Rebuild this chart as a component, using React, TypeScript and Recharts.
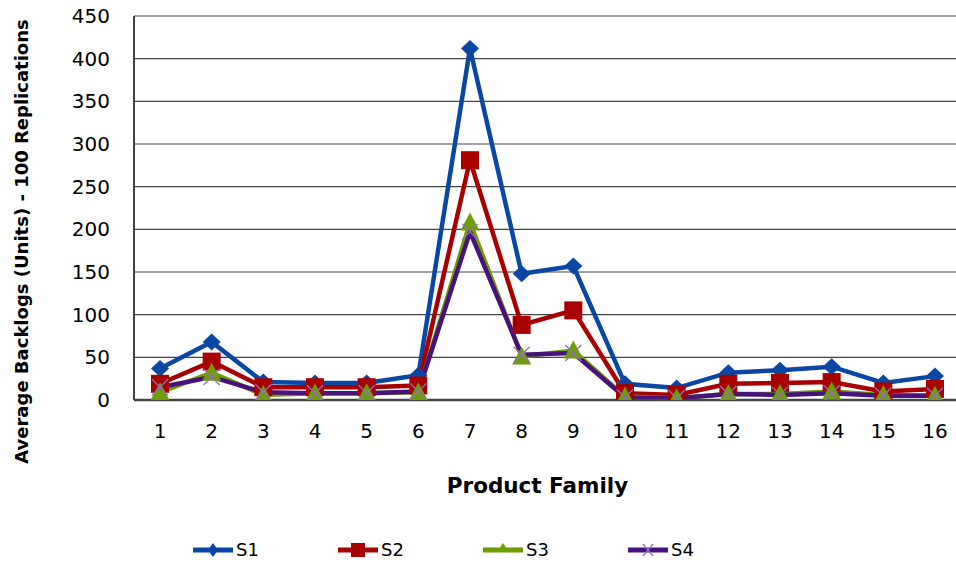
import React from 'react';
import {
  LineChart,
  Line,
  XAxis,
  YAxis,
  CartesianGrid,
  Legend,
  Label,
} from 'recharts';

// Product families on the category axis
const families = ['1', '2', '3', '4', '5', '6', '7', '8', '9', '10', '11', '12', '13', '14', '15', '16'];

// Average backlog (units) over 100 replications, per scenario
const s1 = [37, 68, 21, 20, 20, 29, 412, 148, 157, 19, 14, 32, 35, 39, 20, 28];
const s2 = [19, 45, 15, 15, 15, 17, 281, 88, 105, 8, 6, 19, 20, 21, 10, 13];
const s3 = [9, 32, 6, 8, 8, 9, 208, 51, 58, 4, 2, 7, 7, 10, 6, 5];
const s4 = [15, 27, 9, 8, 8, 10, 197, 53, 55, 3, 2, 7, 6, 8, 5, 5];

const yTicks = [0, 50, 100, 150, 200, 250, 300, 350, 400, 450];

const data = families.map((family, i) => ({
  family,
  S1: s1[i],
  S2: s2[i],
  S3: s3[i],
  S4: s4[i],
}));

const COLORS = {
  S1: '#0A47A5',
  S2: '#A80000',
  S3: '#6E9E00',
  S4: '#48127E',
};

const FONT = '"DejaVu Sans", Verdana, sans-serif';
const GRID = '#444444';

type MarkerKind = 'diamond' | 'square' | 'triangle' | 'cross';

function Marker({ kind, cx, cy, color }: { kind: MarkerKind; cx: number; cy: number; color: string }) {
  switch (kind) {
    case 'diamond':
      return <path d={`M${cx},${cy - 8.5} L${cx + 9},${cy} L${cx},${cy + 8.5} L${cx - 9},${cy} Z`} fill={color} />;
    case 'square':
      return <rect x={cx - 9} y={cy - 9} width={18} height={18} fill={color} />;
    case 'triangle':
      return <path d={`M${cx},${cy - 10} L${cx + 9.5},${cy + 8} L${cx - 9.5},${cy + 8} Z`} fill={color} />;
    case 'cross':
    default:
      return (
        <g stroke="#8F6FC0" strokeWidth={1.3}>
          <line x1={cx - 8} y1={cy - 8} x2={cx + 8} y2={cy + 8} />
          <line x1={cx - 8} y1={cy + 8} x2={cx + 8} y2={cy - 8} />
        </g>
      );
  }
}

const makeDot = (kind: MarkerKind, color: string) => (props: any) => {
  const { cx, cy, index } = props;
  if (cx == null || cy == null) return <g key={`d-${kind}-${index}`} />;
  return (
    <g key={`d-${kind}-${index}`}>
      <Marker kind={kind} cx={cx} cy={cy} color={color} />
    </g>
  );
};

const SERIES: { key: 'S1' | 'S2' | 'S3' | 'S4'; kind: MarkerKind }[] = [
  { key: 'S1', kind: 'diamond' },
  { key: 'S2', kind: 'square' },
  { key: 'S3', kind: 'triangle' },
  { key: 'S4', kind: 'cross' },
];

function LegendContent() {
  return (
    <div style={{ height: 49, position: 'relative', width: 956 }}>
      {SERIES.map((s, i) => (
        <div
          key={s.key}
          style={{
            position: 'absolute',
            left: 193 + i * 145,
            top: 20,
            display: 'flex',
            alignItems: 'center',
            height: 20,
          }}
        >
          <svg width={40} height={20} style={{ display: 'block' }}>
            <line x1={0} y1={10} x2={40} y2={10} stroke={COLORS[s.key]} strokeWidth={5} />
            {s.kind === 'diamond' && <path d="M20,3 L25,10 L20,17 L15,10 Z" fill={COLORS[s.key]} />}
            {s.kind === 'square' && <rect x={13} y={3} width={14} height={14} fill={COLORS[s.key]} />}
            {s.kind === 'triangle' && <path d="M20,3 L26,12 L14,12 Z" fill={COLORS[s.key]} />}
            {s.kind === 'cross' && (
              <g stroke="#8F6FC0" strokeWidth={1.2}>
                <line x1={15} y1={4} x2={25} y2={16} />
                <line x1={15} y1={16} x2={25} y2={4} />
              </g>
            )}
          </svg>
          <span
            style={{
              marginLeft: 3,
              fontFamily: FONT,
              fontSize: 18,
              color: '#000',
              lineHeight: '20px',
            }}
          >
            {s.key}
          </span>
        </div>
      ))}
    </div>
  );
}

function YTitle(props: any) {
  const vb = props.viewBox || { x: 0, y: 16, width: 134, height: 384 };
  const cx = vb.x + 21;
  const cy = vb.y + vb.height / 2 + 33.5;
  return (
    <text
      x={cx}
      y={cy}
      transform={`rotate(-90 ${cx} ${cy})`}
      textAnchor="middle"
      dominantBaseline="central"
      fontFamily={FONT}
      fontWeight="bold"
      fontSize={18}
      fill="#000"
    >
      Average Backlogs (Units) - 100 Replications
    </text>
  );
}

function XTitle(props: any) {
  const vb = props.viewBox || { x: 134, y: 400, width: 827, height: 120 };
  const cx = vb.x + vb.width / 2 - 10;
  const y = vb.y + 93;
  return (
    <text x={cx} y={y} textAnchor="middle" fontFamily={FONT} fontWeight="bold" fontSize={21.5} fill="#000">
      Product Family
    </text>
  );
}

export default function App() {
  return (
    <div style={{ position: 'absolute', left: 0, top: 0, width: 956, height: 569, overflow: 'hidden', background: '#fff' }}>
      <LineChart width={961} height={569} data={data} margin={{ top: 16, right: 0, bottom: 0, left: 0 }}>
        <CartesianGrid vertical={false} stroke={GRID} strokeWidth={1.2} />
        <XAxis
          dataKey="family"
          height={120}
          padding={{ left: 26, right: 26 }}
          tickLine={false}
          tickSize={0}
          tickMargin={24}
          axisLine={{ stroke: GRID, strokeWidth: 2.5 }}
          tick={{ fontSize: 20, fill: '#000', fontFamily: FONT }}
          interval={0}
        >
          <Label content={XTitle} />
        </XAxis>
        <YAxis
          width={134}
          domain={[0, 450]}
          ticks={yTicks}
          tickLine={false}
          tickSize={0}
          tickMargin={24}
          axisLine={{ stroke: GRID, strokeWidth: 2 }}
          tick={{ fontSize: 20, fill: '#000', fontFamily: FONT }}
          allowDataOverflow
        >
          <Label content={YTitle} />
        </YAxis>
        <Legend verticalAlign="bottom" height={49} content={<LegendContent />} wrapperStyle={{ left: 0, width: 956 }} />
        {SERIES.map((s) => (
          <Line
            key={s.key}
            type="linear"
            dataKey={s.key}
            stroke={COLORS[s.key]}
            strokeWidth={4.5}
            dot={makeDot(s.kind, COLORS[s.key])}
            activeDot={false}
            isAnimationActive={false}
          />
        ))}
      </LineChart>
    </div>
  );
}
